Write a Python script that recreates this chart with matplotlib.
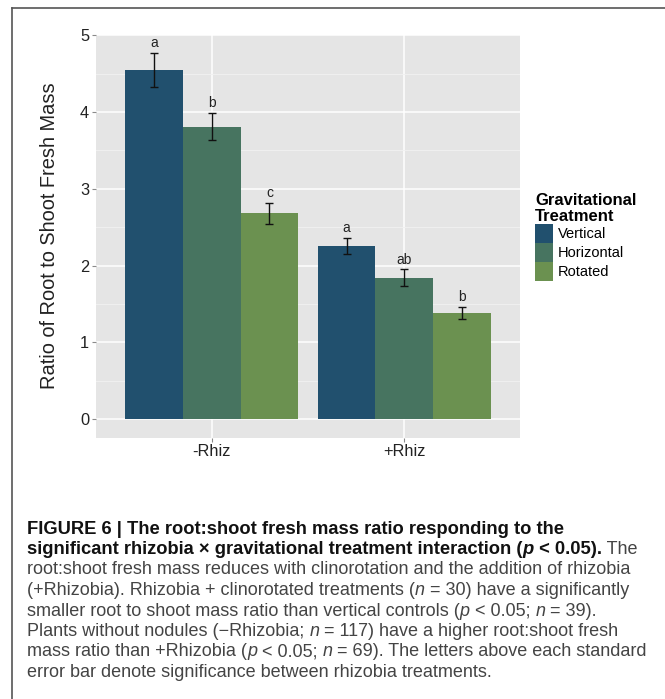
import matplotlib
matplotlib.use("Agg")
import matplotlib.pyplot as plt
import numpy as np
from matplotlib.patches import Patch
from matplotlib.lines import Line2D

# data
groups = ["-Rhiz", "+Rhiz"]
treatments = ["Vertical", "Horizontal", "Rotated"]
ratio_minus = [4.55, 3.81, 2.68]
ratio_plus = [2.255, 1.84, 1.385]
se_minus = [0.22, 0.18, 0.14]
se_plus = [0.105, 0.11, 0.075]
letters_minus = ["a", "b", "c"]
letters_plus = ["a", "ab", "b"]

couleurs = ["#21506e", "#477460", "#6b9150"]

plt.rcParams["font.family"] = ["Liberation Sans", "DejaVu Sans"]

fig = plt.figure(figsize=(6.65, 6.99), dpi=100)
W, H = 665, 699
ax = fig.add_axes([96 / W, 1 - 437.5 / H, (520 - 96) / W, (437.5 - 34.5) / H])

ax.set_facecolor("#e5e5e5")
for s in ax.spines.values():
    s.set_visible(False)

# grid
ax.set_yticks(np.arange(0, 5.5, 1))
ax.set_yticks(np.arange(0.5, 5, 1), minor=True)
ax.grid(True, which="major", color="white", linewidth=1.1)
ax.grid(True, which="minor", axis="y", color="#f2f2f2", linewidth=0.6)
ax.set_axisbelow(True)

x = np.arange(1, len(groups) + 1)
largeur = 0.3
valeurs = [ratio_minus, ratio_plus]
erreurs = [se_minus, se_plus]
lettres = [letters_minus, letters_plus]
for j, trt in enumerate(treatments):
    pos = x + (j - 1) * largeur
    hauteurs = [valeurs[g][j] for g in range(len(groups))]
    errs = [erreurs[g][j] for g in range(len(groups))]
    ax.bar(pos, hauteurs, width=largeur, color=couleurs[j], label=trt, zorder=2)
    ax.errorbar(pos, hauteurs, yerr=errs, fmt="none", ecolor="#111111",
                elinewidth=1.0, capsize=2.6, capthick=1.0, zorder=3)
    for g in range(len(groups)):
        ax.annotate(lettres[g][j], (pos[g], hauteurs[g] + errs[g]),
                    xytext=(0, 2.0), textcoords="offset points",
                    ha="center", va="bottom", fontsize=10, color="#222222")

ax.set_xlim(0.4, 2.6)
ax.set_ylim(-0.24, 5.01)
ax.set_xticks(x)
ax.set_xticklabels(groups)
ax.tick_params(axis="both", which="major", length=3, color="#8a8a8a",
               labelsize=11.8, labelcolor="#222222", pad=2)
ax.tick_params(axis="y", which="minor", length=0)
ax.set_ylabel("Ratio of Root to Shoot Fresh Mass", fontsize=14.4, color="#222222",
              labelpad=15)

handles = [Patch(facecolor=c, edgecolor="none") for c in couleurs]
leg = ax.legend(handles, treatments, loc="upper left",
                bbox_to_anchor=(535 / W, 1 - 193.5 / H), bbox_transform=fig.transFigure,
                frameon=False, fontsize=10.5, title="Gravitational\nTreatment",
                title_fontproperties={"weight": "bold", "size": 12},
                alignment="left", borderpad=0, borderaxespad=0,
                handlelength=1.24, handleheight=1.63, handletextpad=0.3,
                labelspacing=0)
leg.get_title().set_linespacing(1.05)

# cadre gauche / haut
fig.add_artist(Line2D([12 / W, 12 / W], [0, 1 - 8 / H], color="#555555", lw=1.2,
                      transform=fig.transFigure))
fig.add_artist(Line2D([12 / W, 1], [1 - 8 / H, 1 - 8 / H], color="#555555", lw=1.2,
                      transform=fig.transFigure))

# legende de la figure
B, N, BI, I = "bold", "normal", "bolditalic", "italic"
lignes = [
    [("FIGURE 6 | The root:shoot fresh mass ratio responding to the", B)],
    [("significant rhizobia \u00d7 gravitational treatment interaction (", B), ("p", BI),
     (" < 0.05).", B), (" The", N)],
    [("root:shoot fresh mass reduces with clinorotation and the addition of rhizobia", N)],
    [("(+Rhizobia). Rhizobia + clinorotated treatments (", N), ("n", I),
     (" = 30) have a significantly", N)],
    [("smaller root to shoot mass ratio than vertical controls (", N), ("p", I),
     (" < 0.05; ", N), ("n", I), (" = 39).", N)],
    [("Plants without nodules (\u2212Rhizobia; ", N), ("n", I),
     (" = 117) have a higher root:shoot fresh", N)],
    [("mass ratio than +Rhizobia (", N), ("p", I), (" < 0.05; ", N), ("n", I),
     (" = 69). The letters above each standard", N)],
    [("error bar denote significance between rhizobia treatments.", N)],
]
renderer = fig.canvas.get_renderer()
taille_gras = 13.2
taille = 13.0
y0 = 533.5
for k, ligne in enumerate(lignes):
    xp = 27.0
    yb = y0 + k * 20.5
    for texte, style in ligne:
        poids = "bold" if "bold" in style else "normal"
        forme = "italic" if "italic" in style else "normal"
        couleur = "#111111" if poids == "bold" else "#444444"
        t = fig.text(xp / W, 1 - yb / H, texte,
                     fontsize=taille_gras if poids == "bold" else taille,
                     fontweight=poids, fontstyle=forme, color=couleur,
                     ha="left", va="baseline")
        xp += t.get_window_extent(renderer).width

fig.savefig("out.png", dpi=100)
